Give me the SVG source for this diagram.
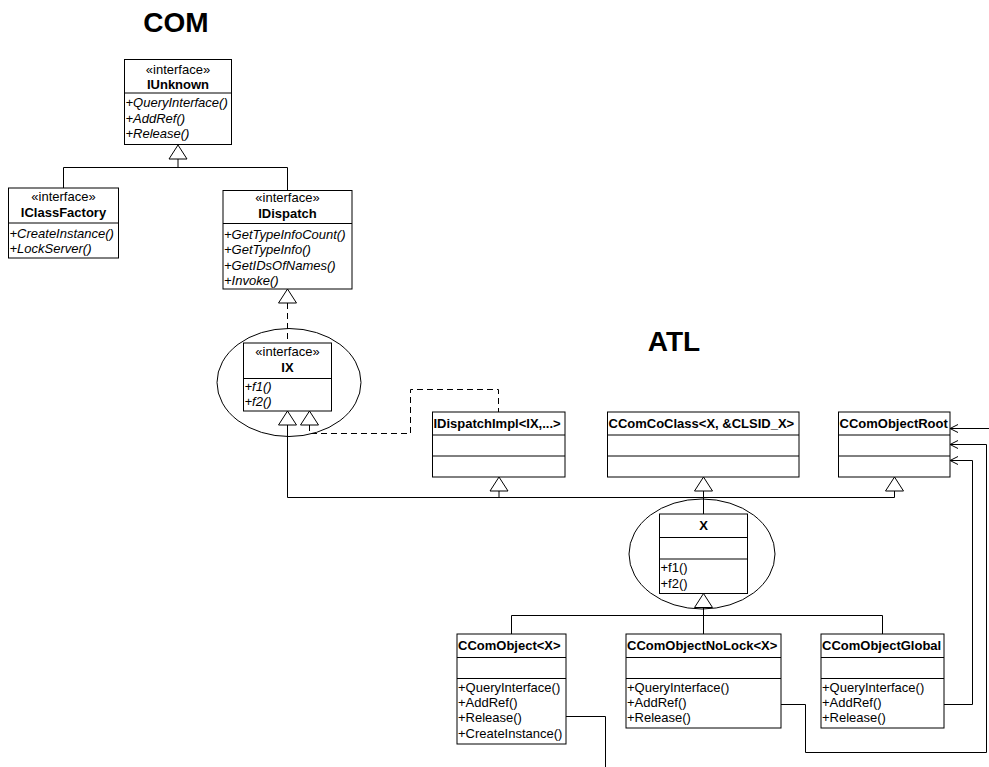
<svg xmlns="http://www.w3.org/2000/svg" width="989" height="767" viewBox="0 0 989 767">
  <style>
    .box { fill: #fff; stroke: #000; stroke-width: 1; }
    .div { stroke: #000; stroke-width: 1; }
    .t { font-family: "Liberation Sans", Arial, sans-serif; font-size: 13px; fill: #000; }
    .st { text-anchor: middle; }
    .nm { font-weight: bold; text-anchor: middle; }
    .nl { font-weight: bold; }
    .op { font-style: italic; }
    .title { font-family: "Liberation Sans", Arial, sans-serif; font-size: 28px; font-weight: bold; text-anchor: middle; fill: #000; }
    .ln { fill: none; stroke: #000; stroke-width: 1; }
    .dash { fill: none; stroke: #000; stroke-width: 1; stroke-dasharray: 6 4; }
    .tri { fill: #fff; stroke: #000; stroke-width: 1; }
    .ell { fill: none; stroke: #000; stroke-width: 1; }
  </style>
  <defs>
    <marker id="open" markerWidth="10" markerHeight="10" refX="9" refY="5" orient="auto" markerUnits="userSpaceOnUse">
      <path d="M1,1 L9,5 L1,9" fill="none" stroke="#000" stroke-width="1"/>
    </marker>
    <path id="gen" d="M0,0 L9,14 L-9,14 Z"/>
  </defs>

  <rect width="989" height="767" fill="#fff"/>

  <text class="title" x="176" y="32">COM</text>
  <text class="title" x="674" y="351">ATL</text>

  <!-- grouping ellipses -->
  <ellipse class="ell" cx="289" cy="382.5" rx="72" ry="54"/>
  <ellipse class="ell" cx="702" cy="554" rx="73" ry="55"/>

  <g id="connectors">
    <!-- IUnknown hierarchy -->
    <polyline class="ln" points="63.5,188 63.5,167.5 287.5,167.5 287.5,190"/>
    <line class="ln" x1="178" y1="159" x2="178" y2="167.5"/>
    <!-- IX realizes IDispatch -->
    <line class="dash" x1="287.5" y1="303" x2="287.5" y2="343"/>
    <!-- IDispatchImpl realizes IX -->
    <polyline class="dash" points="309.5,425 309.5,433.5 410.5,433.5 410.5,389.5 498.5,389.5 498.5,412"/>
    <!-- X generalizations -->
    <polyline class="ln" points="287.5,425 287.5,497.5 894.5,497.5 894.5,490"/>
    <line class="ln" x1="499" y1="490" x2="499" y2="497.5"/>
    <line class="ln" x1="703.5" y1="490" x2="703.5" y2="514"/>
    <!-- CComObject family -->
    <line class="ln" x1="703.5" y1="607" x2="703.5" y2="634"/>
    <polyline class="ln" points="511.5,634 511.5,615.5 882.5,615.5 882.5,634"/>
    <!-- links into CComObjectRoot -->
    <polyline class="ln" points="566,716.5 605.5,716.5 605.5,767"/>
    <polyline class="ln" points="781,704.5 805.5,704.5 805.5,752.5 986.5,752.5 986.5,444.5 950,444.5" marker-end="url(#open)"/>
    <polyline class="ln" points="944,704.5 972.5,704.5 972.5,460.5 950,460.5" marker-end="url(#open)"/>
    <polyline class="ln" points="989,428.5 950,428.5" marker-end="url(#open)"/>
    <!-- generalization heads -->
    <use href="#gen" class="tri" x="178" y="145"/>
    <use href="#gen" class="tri" x="287.5" y="289"/>
    <use href="#gen" class="tri" x="287.5" y="411"/>
    <use href="#gen" class="tri" x="309.5" y="411"/>
    <use href="#gen" class="tri" x="499" y="477"/>
    <use href="#gen" class="tri" x="703.5" y="477"/>
    <use href="#gen" class="tri" x="894.5" y="477"/>
    <use href="#gen" class="tri" x="703.5" y="593.5"/>
  </g>

  <g id="IUnknown">
    <rect class="box" x="124.5" y="59.5" width="107" height="85"/>
    <line class="div" x1="124.5" y1="93" x2="231.5" y2="93"/>
    <text class="t st" x="178" y="74">«interface»</text>
    <text class="t nm" x="178" y="89">IUnknown</text>
    <text class="t op" x="125.5" y="107">+QueryInterface()</text>
    <text class="t op" x="125.5" y="122.5">+AddRef()</text>
    <text class="t op" x="125.5" y="138">+Release()</text>
  </g>

  <g id="IClassFactory">
    <rect class="box" x="8.5" y="188" width="110" height="70"/>
    <line class="div" x1="8.5" y1="223" x2="118.5" y2="223"/>
    <text class="t st" x="63.5" y="200.5">«interface»</text>
    <text class="t nm" x="63.5" y="217">IClassFactory</text>
    <text class="t op" x="9.5" y="237.5">+CreateInstance()</text>
    <text class="t op" x="9.5" y="253">+LockServer()</text>
  </g>

  <g id="IDispatch">
    <rect class="box" x="223" y="190.5" width="129" height="98.5"/>
    <line class="div" x1="223" y1="223.5" x2="352" y2="223.5"/>
    <text class="t st" x="287.5" y="201.5">«interface»</text>
    <text class="t nm" x="287.5" y="218">IDispatch</text>
    <text class="t op" x="224" y="238.5">+GetTypeInfoCount()</text>
    <text class="t op" x="224" y="254">+GetTypeInfo()</text>
    <text class="t op" x="224" y="269.5">+GetIDsOfNames()</text>
    <text class="t op" x="224" y="285">+Invoke()</text>
  </g>

  <g id="IX">
    <rect class="box" x="243.5" y="343" width="88" height="68"/>
    <line class="div" x1="243.5" y1="378.5" x2="331.5" y2="378.5"/>
    <text class="t st" x="287.5" y="356">«interface»</text>
    <text class="t nm" x="287.5" y="372">IX</text>
    <text class="t op" x="244.5" y="391">+f1()</text>
    <text class="t op" x="244.5" y="406">+f2()</text>
  </g>

  <g id="IDispatchImpl">
    <rect class="box" x="432.5" y="412" width="132.5" height="65"/>
    <line class="div" x1="432.5" y1="435" x2="565" y2="435"/>
    <line class="div" x1="432.5" y1="456" x2="565" y2="456"/>
    <text class="t nl" x="433.5" y="427.5">IDispatchImpl&lt;IX,...&gt;</text>
  </g>

  <g id="CComCoClass">
    <rect class="box" x="607.5" y="412" width="191.5" height="65"/>
    <line class="div" x1="607.5" y1="435" x2="799" y2="435"/>
    <line class="div" x1="607.5" y1="456" x2="799" y2="456"/>
    <text class="t nl" x="608.5" y="427.5">CComCoClass&lt;X, &amp;CLSID_X&gt;</text>
  </g>

  <g id="CComObjectRoot">
    <rect class="box" x="838.5" y="412" width="111.5" height="65"/>
    <line class="div" x1="838.5" y1="435" x2="950" y2="435"/>
    <line class="div" x1="838.5" y1="456" x2="950" y2="456"/>
    <text class="t nl" x="839.5" y="427.5">CComObjectRoot</text>
  </g>

  <g id="X">
    <rect class="box" x="659.5" y="514" width="88" height="79.5"/>
    <line class="div" x1="659.5" y1="537.5" x2="747.5" y2="537.5"/>
    <line class="div" x1="659.5" y1="559" x2="747.5" y2="559"/>
    <text class="t nm" x="703.5" y="530">X</text>
    <text class="t" x="660.5" y="572">+f1()</text>
    <text class="t" x="660.5" y="587.5">+f2()</text>
  </g>

  <g id="CComObject">
    <rect class="box" x="457" y="634" width="109" height="110"/>
    <line class="div" x1="457" y1="657.5" x2="566" y2="657.5"/>
    <line class="div" x1="457" y1="678.5" x2="566" y2="678.5"/>
    <text class="t nl" x="458" y="650">CComObject&lt;X&gt;</text>
    <text class="t" x="458" y="692">+QueryInterface()</text>
    <text class="t" x="458" y="707">+AddRef()</text>
    <text class="t" x="458" y="722">+Release()</text>
    <text class="t" x="458" y="737.5">+CreateInstance()</text>
  </g>

  <g id="CComObjectNoLock">
    <rect class="box" x="626" y="634" width="155" height="94"/>
    <line class="div" x1="626" y1="657.5" x2="781" y2="657.5"/>
    <line class="div" x1="626" y1="678.5" x2="781" y2="678.5"/>
    <text class="t nl" x="627" y="650">CComObjectNoLock&lt;X&gt;</text>
    <text class="t" x="627" y="692">+QueryInterface()</text>
    <text class="t" x="627" y="707">+AddRef()</text>
    <text class="t" x="627" y="722">+Release()</text>
  </g>

  <g id="CComObjectGlobal">
    <rect class="box" x="821" y="634" width="123" height="94"/>
    <line class="div" x1="821" y1="657.5" x2="944" y2="657.5"/>
    <line class="div" x1="821" y1="678.5" x2="944" y2="678.5"/>
    <text class="t nl" x="822" y="650">CComObjectGlobal</text>
    <text class="t" x="822" y="692">+QueryInterface()</text>
    <text class="t" x="822" y="707">+AddRef()</text>
    <text class="t" x="822" y="722">+Release()</text>
  </g>
</svg>
